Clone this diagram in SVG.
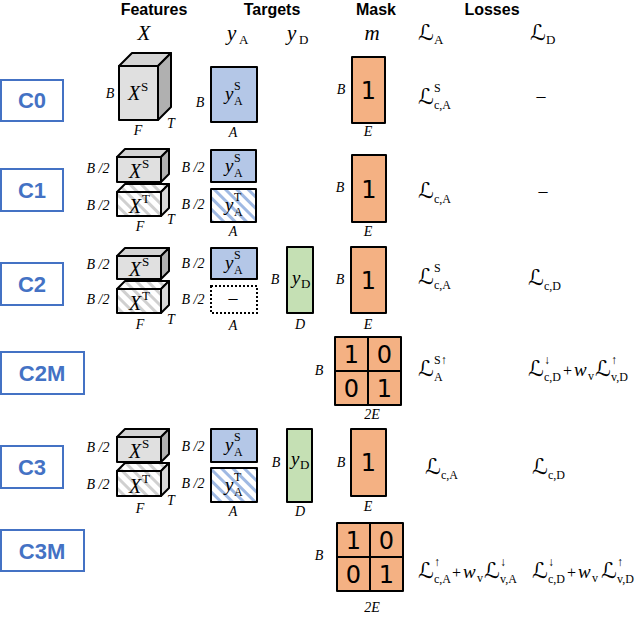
<svg xmlns="http://www.w3.org/2000/svg" width="640" height="617" viewBox="0 0 640 617">
<defs>
<pattern id="hg" patternUnits="userSpaceOnUse" width="8" height="8" patternTransform="rotate(-45)">
<rect width="8" height="8" fill="#ffffff"/><rect width="3" height="8" fill="#d0d0d0"/>
</pattern>
<pattern id="hb" patternUnits="userSpaceOnUse" width="8" height="8" patternTransform="rotate(-45)">
<rect width="8" height="8" fill="#ffffff"/><rect width="3" height="8" fill="#9fb9e3"/>
</pattern>
<style>
.hdr{font-family:"Liberation Sans",Arial,sans-serif;font-weight:bold;font-size:16px;fill:#000;text-anchor:middle}
.cl{font-family:"Liberation Sans",Arial,sans-serif;font-weight:bold;font-size:22px;fill:#4472c4;text-anchor:middle}
.cbox{fill:#fff;stroke:#4472c4;stroke-width:2}
.mi{font-family:"Liberation Serif","DejaVu Serif",serif;font-style:italic;fill:#000}
.mr{font-family:"Liberation Serif","DejaVu Serif",serif;fill:#000}
.L{font-family:"DejaVu Serif","DejaVu Sans",serif;font-size:22px;fill:#000}
.dim{font-family:"Liberation Serif",serif;font-style:italic;font-size:14px;fill:#000;text-anchor:middle}
.sb{stroke:#000;stroke-width:2;stroke-linejoin:round}
.front{fill:#e0e0e0}
.top{fill:#d4d4d4}
.side{fill:#b0b0b0}
.blue{fill:#b4c7e7}
.green{fill:#c5e0b4}
.org{fill:#f4b183}
.num{font-family:"DejaVu Sans","Liberation Sans",sans-serif;font-size:24px;fill:#000;text-anchor:middle}
.sub{font-family:"Liberation Serif",serif;font-size:13px;fill:#000}
.ss{font-family:"Liberation Serif",serif;font-size:12px;fill:#000}
</style>
</defs>
<rect width="640" height="617" fill="#ffffff"/>

<g id="headers">
<text x="154" y="15" class="hdr">Features</text>
<text x="272" y="15" class="hdr">Targets</text>
<text x="376" y="15" class="hdr">Mask</text>
<text x="492" y="15" class="hdr">Losses</text>
<text x="144" y="40" class="mi" font-size="21" text-anchor="middle">X</text>
<text x="227" y="40" class="mi" font-size="21">y</text><text x="239" y="44" class="sub" font-size="15">A</text>
<text x="287" y="40" class="mi" font-size="21">y</text><text x="299" y="44" class="sub" font-size="15">D</text>
<text x="372" y="40" class="mi" font-size="21" text-anchor="middle">m</text>
<text x="418" y="40" class="L" font-size="23">ℒ</text><text x="434" y="44" class="sub" font-size="15">A</text>
<text x="530" y="40" class="L" font-size="23">ℒ</text><text x="546" y="44" class="sub" font-size="15">D</text>
</g>

<g id="C0">
<rect x="1" y="80" width="62" height="41" class="cbox"/>
<text x="32" y="108" class="cl">C0</text>
<g id="C0-features">
<polygon points="119,66 132,53 171,53 158,66" class="top sb"/>
<polygon points="158,66 171,53 171,107 158,120" class="side sb"/>
<rect x="119" y="66" width="39" height="54" class="front sb"/>
<text x="134" y="100" class="mi" font-size="20" text-anchor="middle">X</text><text x="141" y="91" class="sub" font-size="14">S</text>
<text x="110" y="98" class="dim">B</text>
<text x="138" y="135" class="dim">F</text>
<text x="171" y="128" class="dim">T</text>
</g>
<g id="C0-targets">
<rect x="211" y="67" width="46" height="55" class="blue sb"/>
<text x="225" y="100" class="mi" font-size="19">y</text><text x="234" y="90" class="ss">S</text><text x="234" y="105" class="ss">A</text>
<text x="200" y="107" class="dim">B</text>
<text x="233" y="137" class="dim">A</text>
</g>
<g id="C0-mask">
<rect x="352" y="57" width="33" height="66" class="org sb"/>
<text x="368.5" y="99" class="num">1</text>
<text x="341" y="94" class="dim">B</text>
<text x="368" y="136" class="dim">E</text>
</g>
<g id="C0-losses">
<text x="418" y="104" class="L">ℒ</text><text x="434" y="109" class="ss">c,A</text><text x="434" y="92" class="ss">S</text>
<text x="541" y="102" class="mr" font-size="18" text-anchor="middle">–</text>
</g>
</g>

<g id="C1">
<rect x="1" y="169" width="62" height="42" class="cbox"/>
<text x="32" y="198" class="cl">C1</text>
<g id="C1-features">
<polygon points="117,157 125,149 169,149 161,157" class="top sb"/>
<polygon points="161,157 169,149 169,174 161,182" class="side sb"/>
<rect x="117" y="157" width="44" height="25" class="front sb"/>
<text x="135" y="178" class="mi" font-size="20" text-anchor="middle">X</text><text x="142" y="168" class="sub" font-size="14">S</text>
<polygon points="117,192 125,184 169,184 161,192" fill="url(#hg)" class="sb"/>
<polygon points="161,192 169,184 169,208 161,216" fill="#d8d8d8" class="sb"/>
<rect x="117" y="192" width="44" height="24" fill="url(#hg)" class="sb"/>
<text x="135" y="213" class="mi" font-size="20" text-anchor="middle">X</text><text x="142" y="203" class="sub" font-size="14">T</text>
<text x="98" y="173" class="dim">B /2</text>
<text x="98" y="210" class="dim">B /2</text>
<text x="140" y="231" class="dim">F</text>
<text x="171" y="224" class="dim">T</text>
</g>
<g id="C1-targets">
<rect x="211" y="150" width="45" height="32" class="blue sb"/>
<text x="225" y="172" class="mi" font-size="19">y</text><text x="234" y="162" class="ss">S</text><text x="234" y="177" class="ss">A</text>
<rect x="211" y="189" width="45" height="33" fill="url(#hb)" class="sb"/>
<text x="225" y="211" class="mi" font-size="19">y</text><text x="234" y="201" class="ss">T</text><text x="234" y="216" class="ss">A</text>
<text x="193" y="172" class="dim">B /2</text>
<text x="193" y="209" class="dim">B /2</text>
<text x="233" y="236" class="dim">A</text>
</g>
<g id="C1-mask">
<rect x="352" y="155" width="34" height="67" class="org sb"/>
<text x="369" y="198" class="num">1</text>
<text x="340" y="192" class="dim">B</text>
<text x="368" y="236" class="dim">E</text>
</g>
<g id="C1-losses">
<text x="418" y="198" class="L">ℒ</text><text x="434" y="203" class="ss">c,A</text>
<text x="543" y="197" class="mr" font-size="18" text-anchor="middle">–</text>
</g>
</g>

<g id="C2">
<rect x="1" y="263" width="62" height="42" class="cbox"/>
<text x="32" y="292" class="cl">C2</text>
<g id="C2-features">
<polygon points="117,256 125,248 169,248 161,256" class="top sb"/>
<polygon points="161,256 169,248 169,271 161,279" class="side sb"/>
<rect x="117" y="256" width="44" height="23" class="front sb"/>
<text x="135" y="276" class="mi" font-size="20" text-anchor="middle">X</text><text x="142" y="266" class="sub" font-size="14">S</text>
<polygon points="117,289 125,281 169,281 161,289" fill="url(#hg)" class="sb"/>
<polygon points="161,289 169,281 169,305 161,313" fill="#d8d8d8" class="sb"/>
<rect x="117" y="289" width="44" height="24" fill="url(#hg)" class="sb"/>
<text x="135" y="310" class="mi" font-size="20" text-anchor="middle">X</text><text x="142" y="300" class="sub" font-size="14">T</text>
<text x="98" y="269" class="dim">B /2</text>
<text x="98" y="304" class="dim">B /2</text>
<text x="140" y="329" class="dim">F</text>
<text x="171" y="324" class="dim">T</text>
</g>
<g id="C2-targets">
<rect x="211" y="248" width="46" height="31" class="blue sb"/>
<text x="225" y="269" class="mi" font-size="19">y</text><text x="234" y="259" class="ss">S</text><text x="234" y="274" class="ss">A</text>
<rect x="211" y="286" width="46" height="27" fill="#fff" stroke="#000" stroke-width="2" stroke-dasharray="2,2"/>
<text x="233" y="304" class="mr" font-size="18" text-anchor="middle">–</text>
<text x="193" y="268" class="dim">B /2</text>
<text x="193" y="304" class="dim">B /2</text>
<text x="233" y="330" class="dim">A</text>
</g>
<g id="C2-yD">
<rect x="287" y="247" width="26" height="66" class="green sb"/>
<text x="292" y="284" class="mi" font-size="19">y</text><text x="301" y="288" class="sub">D</text>
<text x="275" y="284" class="dim">B</text>
<text x="300" y="329" class="dim">D</text>
</g>
<g id="C2-mask">
<rect x="351" y="247" width="35" height="66" class="org sb"/>
<text x="368.5" y="289" class="num">1</text>
<text x="340" y="284" class="dim">B</text>
<text x="368" y="329" class="dim">E</text>
</g>
<g id="C2-losses">
<text x="418" y="284" class="L">ℒ</text><text x="434" y="289" class="ss">c,A</text><text x="434" y="272" class="ss">S</text>
<text x="528" y="285" class="L">ℒ</text><text x="544" y="290" class="ss">c,D</text>
</g>
</g>

<g id="C2M">
<rect x="1" y="352" width="83" height="42" class="cbox"/>
<text x="42" y="381" class="cl">C2M</text>
<g id="C2M-mask">
<rect x="335" y="337" width="66" height="68" class="org sb"/>
<line x1="368" y1="337" x2="368" y2="405" class="sb"/>
<line x1="335" y1="371" x2="401" y2="371" class="sb"/>
<text x="351.5" y="363" class="num">1</text>
<text x="384.5" y="363" class="num">0</text>
<text x="351.5" y="397" class="num">0</text>
<text x="384.5" y="397" class="num">1</text>
<text x="319" y="375" class="dim">B</text>
<text x="372" y="419" class="dim">2E</text>
</g>
<g id="C2M-losses">
<text x="418" y="376" class="L">ℒ</text><text x="434" y="381" class="ss">A</text><text x="434" y="364" class="ss">S↑</text>
<text x="528" y="376" class="L">ℒ</text><text x="544" y="381" class="ss">c,D</text><text x="544" y="364" class="ss">↓</text>
<text x="563" y="376" class="mr" font-size="16">+</text>
<text x="574" y="376" class="mi" font-size="19">w</text><text x="588" y="380" class="ss">v</text>
<text x="595" y="376" class="L">ℒ</text><text x="611" y="381" class="ss">v,D</text><text x="611" y="364" class="ss">↑</text>
</g>
</g>

<g id="C3">
<rect x="1" y="446" width="62" height="42" class="cbox"/>
<text x="32" y="475" class="cl">C3</text>
<g id="C3-features">
<polygon points="117,437 125,429 169,429 161,437" class="top sb"/>
<polygon points="161,437 169,429 169,454 161,462" class="side sb"/>
<rect x="117" y="437" width="44" height="25" class="front sb"/>
<text x="135" y="458" class="mi" font-size="20" text-anchor="middle">X</text><text x="142" y="448" class="sub" font-size="14">S</text>
<polygon points="117,471 125,463 169,463 161,471" fill="url(#hg)" class="sb"/>
<polygon points="161,471 169,463 169,488 161,496" fill="#d8d8d8" class="sb"/>
<rect x="117" y="471" width="44" height="25" fill="url(#hg)" class="sb"/>
<text x="135" y="493" class="mi" font-size="20" text-anchor="middle">X</text><text x="142" y="483" class="sub" font-size="14">T</text>
<text x="98" y="452" class="dim">B /2</text>
<text x="98" y="489" class="dim">B /2</text>
<text x="140" y="513" class="dim">F</text>
<text x="171" y="505" class="dim">T</text>
</g>
<g id="C3-targets">
<rect x="211" y="429" width="46" height="33" class="blue sb"/>
<text x="225" y="451" class="mi" font-size="19">y</text><text x="234" y="441" class="ss">S</text><text x="234" y="456" class="ss">A</text>
<rect x="211" y="468" width="46" height="34" fill="url(#hb)" class="sb"/>
<text x="225" y="491" class="mi" font-size="19">y</text><text x="234" y="481" class="ss">T</text><text x="234" y="496" class="ss">A</text>
<text x="193" y="451" class="dim">B /2</text>
<text x="193" y="488" class="dim">B /2</text>
<text x="233" y="516" class="dim">A</text>
</g>
<g id="C3-yD">
<rect x="287" y="429" width="25" height="73" class="green sb"/>
<text x="291" y="465" class="mi" font-size="19">y</text><text x="300" y="469" class="sub">D</text>
<text x="276" y="467" class="dim">B</text>
<text x="300" y="516" class="dim">D</text>
</g>
<g id="C3-mask">
<rect x="351" y="429" width="35" height="67" class="org sb"/>
<text x="368.5" y="471" class="num">1</text>
<text x="341" y="467" class="dim">B</text>
<text x="368" y="511" class="dim">E</text>
</g>
<g id="C3-losses">
<text x="425" y="474" class="L">ℒ</text><text x="441" y="479" class="ss">c,A</text>
<text x="532" y="474" class="L">ℒ</text><text x="548" y="479" class="ss">c,D</text>
</g>
</g>

<g id="C3M">
<rect x="1" y="530" width="83" height="41" class="cbox"/>
<text x="42" y="559" class="cl">C3M</text>
<g id="C3M-mask">
<rect x="337" y="523" width="66" height="68" class="org sb"/>
<line x1="370" y1="523" x2="370" y2="591" class="sb"/>
<line x1="337" y1="557" x2="403" y2="557" class="sb"/>
<text x="353.5" y="549" class="num">1</text>
<text x="386.5" y="549" class="num">0</text>
<text x="353.5" y="583" class="num">0</text>
<text x="386.5" y="583" class="num">1</text>
<text x="319" y="560" class="dim">B</text>
<text x="372" y="612" class="dim">2E</text>
</g>
<g id="C3M-losses">
<text x="418" y="578" class="L">ℒ</text><text x="434" y="583" class="ss">c,A</text><text x="434" y="566" class="ss">↑</text>
<text x="452" y="578" class="mr" font-size="16">+</text>
<text x="463" y="578" class="mi" font-size="19">w</text><text x="477" y="582" class="ss">v</text>
<text x="484" y="578" class="L">ℒ</text><text x="500" y="583" class="ss">v,A</text><text x="500" y="566" class="ss">↓</text>
<text x="532" y="578" class="L">ℒ</text><text x="548" y="583" class="ss">c,D</text><text x="548" y="566" class="ss">↓</text>
<text x="567" y="578" class="mr" font-size="16">+</text>
<text x="578" y="578" class="mi" font-size="19">w</text><text x="592" y="582" class="ss">v</text>
<text x="601" y="578" class="L">ℒ</text><text x="617" y="583" class="ss">v,D</text><text x="617" y="566" class="ss">↑</text>
</g>
</g>
</svg>
